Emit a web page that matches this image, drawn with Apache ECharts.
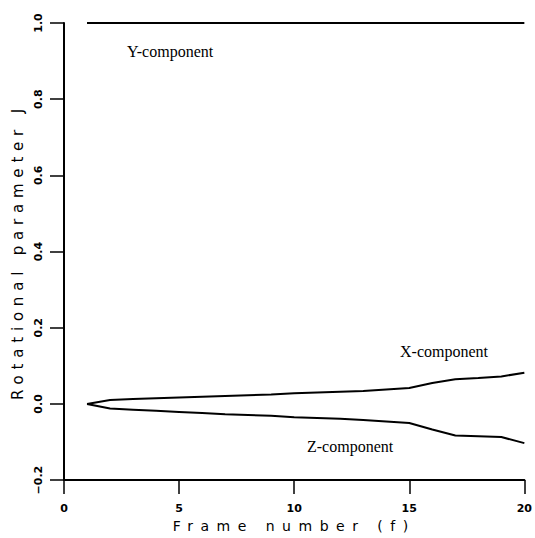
<!DOCTYPE html>
<html><head><meta charset="utf-8">
<script src="https://cdn.jsdelivr.net/npm/echarts@6/dist/echarts.min.js"></script>
<style>html,body{margin:0;padding:0;background:#fff}#c{width:535px;height:538px}</style>
</head><body><div id="c"></div>
<script>
const frames = [1,2,3,4,5,6,7,8,9,10,11,12,13,14,15,16,17,18,19,20];
const xComponent = [0,0.010,0.013,0.015,0.017,0.019,0.021,0.023,0.025,0.028,0.030,0.032,0.034,0.038,0.042,0.055,0.065,0.068,0.072,0.082];
const yComponent = [1,1,1,1,1,1,1,1,1,1,1,1,1,1,1,1,1,1,1,1];
const zComponent = [0,-0.012,-0.015,-0.018,-0.021,-0.024,-0.027,-0.029,-0.031,-0.035,-0.037,-0.039,-0.042,-0.046,-0.050,-0.067,-0.083,-0.085,-0.087,-0.103];
const seriesNames = ['X-component','Y-component','Z-component'];
const xAxisTitle = 'Frame number (f)';
const yAxisTitle = 'Rotational parameter J';

const pairs = vals => frames.map((f,i)=>[f, vals[i]]);
const lineStyle = {color:'#000', width:2};
const mkSeries = (name, vals) => ({
  name, type:'line', data: pairs(vals), showSymbol:false, symbol:'none',
  lineStyle, clip:false, silent:true, animation:false
});
const tickFont = {fontFamily:'DejaVu Sans', fontWeight:'bold', fontSize:11, color:'#000'};
const labelText = {fontFamily:'Liberation Serif', fontSize:16, fill:'#000'};

const chart = echarts.init(document.getElementById('c'), null, {renderer:'svg'});
chart.setOption({
  animation:false,
  backgroundColor:'#fff',
  grid:{left:64, right:8, top:23, bottom:55, containLabel:false},
  xAxis:{
    type:'value', min:0, max:20, interval:5,
    name:xAxisTitle, nameLocation:'middle', nameGap:29,
    nameTextStyle:{fontFamily:'DejaVu Sans', fontSize:14, color:'#000'},
    axisLine:{show:true, onZero:false, lineStyle:{color:'#000', width:2}},
    axisTick:{show:true, inside:false, length:14, lineStyle:{color:'#000', width:1.5}},
    axisLabel:Object.assign({margin:23}, tickFont),
    splitLine:{show:false}
  },
  yAxis:{
    type:'value', min:-0.2, max:1.0, interval:0.2,
    name:yAxisTitle, nameLocation:'middle', nameGap:33,
    nameTextStyle:{fontFamily:'DejaVu Sans', fontSize:15, color:'#000'},
    axisLine:{show:true, onZero:false, lineStyle:{color:'#000', width:2}},
    axisTick:{show:true, inside:false, length:14, lineStyle:{color:'#000', width:1.5}},
    axisLabel:Object.assign({margin:20, rotate:90, formatter:v=>(v<0?'\u2212':'')+Math.abs(v).toFixed(1)}, tickFont),
    splitLine:{show:false}
  },
  series:[mkSeries(seriesNames[0], xComponent), mkSeries(seriesNames[1], yComponent), mkSeries(seriesNames[2], zComponent)],
  graphic:[
    {type:'text', left:127, top:43, style:Object.assign({text:seriesNames[1]}, labelText)},
    {type:'text', left:400, top:343, style:Object.assign({text:seriesNames[0]}, labelText)},
    {type:'text', left:307, top:438, style:Object.assign({text:seriesNames[2]}, labelText)}
  ]
});
// widen the letter spacing of the axis titles, as in the original typeset figure
const spacing = {};
spacing[xAxisTitle] = 7.5;
spacing[yAxisTitle] = 5.8;
function applySpacing(){
  document.querySelectorAll('#c svg text').forEach(t=>{
    const s = spacing[t.textContent];
    if (s) t.setAttribute('letter-spacing', s + 'px');
  });
}
applySpacing();
chart.on('finished', applySpacing);
chart.on('rendered', applySpacing);
setTimeout(applySpacing, 50);
</script></body></html>
